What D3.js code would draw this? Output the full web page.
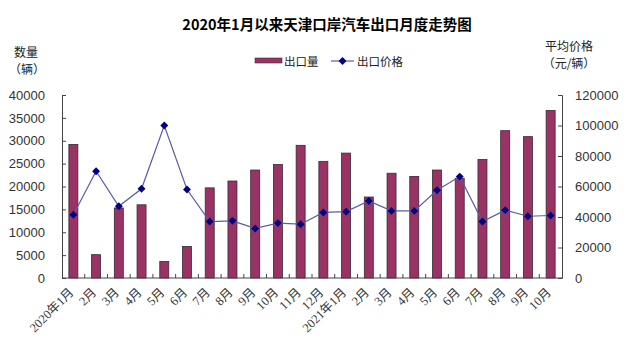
<!DOCTYPE html>
<html>
<head>
<meta charset="utf-8">
<script src="https://cdn.jsdelivr.net/npm/d3@7"></script>
<style>
  body { margin: 0; background: #fff; }
  text { font-family: "Liberation Sans", "Noto Sans CJK SC", sans-serif; }
</style>
</head>
<body>
<div id="chart"></div>
<script>
// data
const months = ["2020年1月", "2月", "3月", "4月", "5月", "6月", "7月", "8月", "9月", "10月", "11月", "12月",
                "2021年1月", "2月", "3月", "4月", "5月", "6月", "7月", "8月", "9月", "10月"];
const volume = [29200, 5100, 15300, 16000, 3600, 6900, 19700, 21200, 23600, 24800, 29000, 25500,
                27300, 17700, 22900, 22200, 23600, 21800, 25900, 32200, 30900, 36600];
const price = [41500, 70000, 47000, 58500, 100000, 58000, 37000, 37500, 32500, 36000, 35300, 43000,
               43500, 50500, 44000, 44000, 57500, 66500, 37000, 44500, 40500, 41000];
const leftTicks = [0, 5000, 10000, 15000, 20000, 25000, 30000, 35000, 40000];
const rightTicks = [0, 20000, 40000, 60000, 80000, 100000, 120000];

const W = 639, H = 360;
const margin = { top: 95, right: 77, bottom: 82, left: 62 };
const width = W - margin.left - margin.right;
const height = H - margin.top - margin.bottom;

const svg = d3.select("#chart").append("svg")
    .attr("width", W).attr("height", H);

// title
svg.append("text")
    .attr("x", 327).attr("y", 30)
    .attr("text-anchor", "middle")
    .style("font-family", "'Noto Sans CJK SC', sans-serif")
    .style("font-size", "14.5px")
    .style("font-weight", "bold")
    .text("2020年1月以来天津口岸汽车出口月度走势图");

// axis titles
const cjk = "'Noto Sans CJK SC', sans-serif";
svg.append("text").attr("x", 26).attr("y", 57).attr("text-anchor", "middle")
    .style("font-family", cjk).style("font-size", "12px").style("fill", "#222").text("数量");
svg.append("text").attr("x", 27).attr("y", 74).attr("text-anchor", "middle")
    .style("font-family", cjk).style("font-size", "12px").style("fill", "#222").text("（辆）");
svg.append("text").attr("x", 569).attr("y", 51).attr("text-anchor", "middle")
    .style("font-family", cjk).style("font-size", "12px").style("fill", "#222").text("平均价格");
svg.append("text").attr("x", 569).attr("y", 68).attr("text-anchor", "middle")
    .style("font-family", cjk).style("font-size", "12px").style("fill", "#222").text("（元/辆）");

// legend
const legend = svg.append("g");
legend.append("rect").attr("x", 255).attr("y", 58).attr("width", 27).attr("height", 5)
    .style("fill", "#993366").style("stroke", "#333").style("stroke-width", 0.6);
legend.append("text").attr("x", 284).attr("y", 66)
    .style("font-family", cjk).style("font-size", "11.5px").style("fill", "#222").text("出口量");
legend.append("line").attr("x1", 331).attr("x2", 354).attr("y1", 61).attr("y2", 61)
    .style("stroke", "#5b5ba8").style("stroke-width", 1.2);
legend.append("path").attr("d", d3.symbol(d3.symbolDiamond2, 40)())
    .attr("transform", "translate(342.5,61)").style("fill", "#000080");
legend.append("text").attr("x", 357).attr("y", 66)
    .style("font-family", cjk).style("font-size", "11.5px").style("fill", "#222").text("出口价格");

const g = svg.append("g").attr("transform", `translate(${margin.left},${margin.top})`);

const x = d3.scaleBand().domain(d3.range(months.length)).range([0, width]).paddingInner(0.6).paddingOuter(0.3);
const xc = d3.scaleBand().domain(d3.range(months.length)).range([0, width]);
const yL = d3.scaleLinear().domain([0, 40000]).range([height, 0]);
const yR = d3.scaleLinear().domain([0, 120000]).range([height, 0]);

// bars
g.selectAll(".bar").data(volume).enter().append("rect")
    .attr("class", "bar")
    .attr("x", (d, i) => xc(i) + xc.bandwidth() / 2 - 4.5)
    .attr("width", 9)
    .attr("y", d => yL(d))
    .attr("height", d => height - yL(d))
    .style("fill", "#993366")
    .style("stroke", "#3a2a30")
    .style("stroke-width", 0.8);

// left axis
const axL = g.append("g")
    .call(d3.axisLeft(yL).tickValues(leftTicks).tickSize(-4).tickPadding(17).tickFormat(d3.format("d")));
axL.select(".domain").style("stroke", "#444");
axL.selectAll(".tick line").style("stroke", "#444");
axL.selectAll("text").style("font-size", "13px").style("fill", "#333")
    .style("font-family", "'Liberation Sans', Arial, sans-serif");

// right axis
const axR = g.append("g").attr("transform", `translate(${width},0)`)
    .call(d3.axisRight(yR).tickValues(rightTicks).tickSize(-4).tickPadding(13).tickFormat(d3.format("d")));
axR.select(".domain").style("stroke", "#444");
axR.selectAll(".tick line").style("stroke", "#444");
axR.selectAll("text").style("font-size", "13px").style("fill", "#333")
    .style("font-family", "'Liberation Sans', Arial, sans-serif");

// bottom axis
g.append("line").attr("x1", 0).attr("x2", width).attr("y1", height).attr("y2", height)
    .style("stroke", "#444");
g.selectAll(".xtick").data(d3.range(1, months.length)).enter().append("line")
    .attr("x1", i => xc(i)).attr("x2", i => xc(i))
    .attr("y1", height).attr("y2", height - 4)
    .style("stroke", "#444");
g.selectAll(".xlabel").data(months).enter().append("text")
    .attr("transform", (d, i) => `translate(${xc(i) + xc.bandwidth() / 2 - 2},${height + 12}) rotate(-45)`)
    .attr("text-anchor", "end")
    .attr("dy", "0.35em")
    .style("font-family", "'Liberation Serif', 'Noto Sans CJK SC', serif")
    .style("font-size", "12.5px")
    .style("fill", "#333")
    .text(d => d);

// price line
const line = d3.line()
    .x((d, i) => xc(i) + xc.bandwidth() / 2)
    .y(d => yR(d));
g.append("path").datum(price).attr("d", line)
    .style("fill", "none").style("stroke", "#5b5ba8").style("stroke-width", 1.2);
g.selectAll(".pt").data(price).enter().append("path")
    .attr("d", d3.symbol(d3.symbolDiamond2, 40)())
    .attr("transform", (d, i) => `translate(${xc(i) + xc.bandwidth() / 2},${yR(d)})`)
    .style("fill", "#000080");
</script>
</body>
</html>
